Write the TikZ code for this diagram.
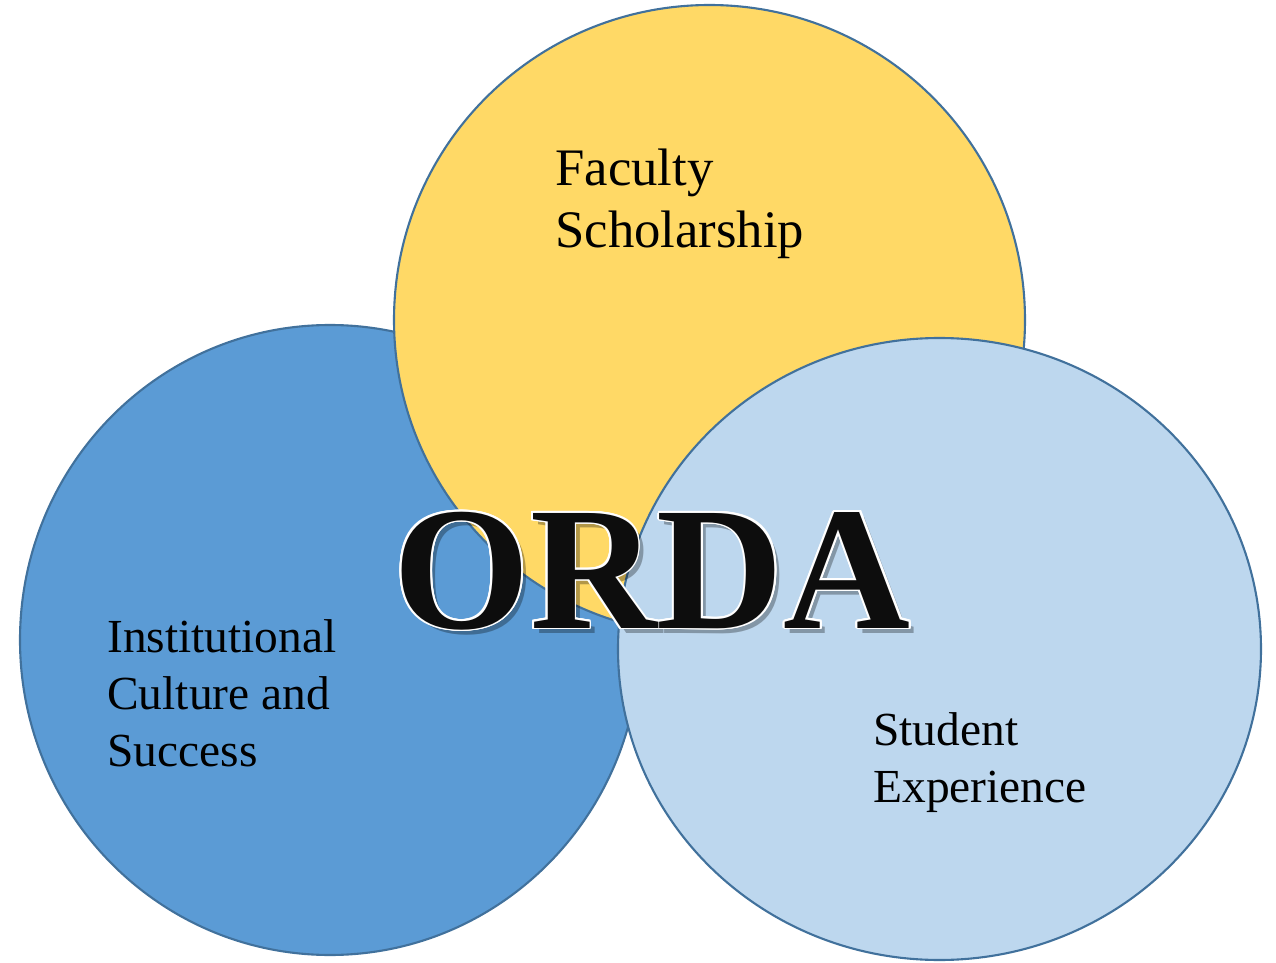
\documentclass[tikz,border=0pt]{standalone}
\usepackage{fontspec}
\setmainfont{Liberation Serif}
\usepackage{contour}
\contourlength{1.1pt}
\contournumber{16}
\definecolor{facyellow}{HTML}{FFD966}
\definecolor{instblue}{HTML}{5B9BD5}
\definecolor{studblue}{HTML}{BDD7EE}
\definecolor{rimblue}{HTML}{41719C}
\tikzset{
  venn/.style={draw=rimblue, line width=1.2pt},
  lbl/.style={inner sep=0pt, align=left, anchor=base west},
}

\begin{document}
\begin{tikzpicture}[x=0.02cm, y=-0.02cm]
			%%%%% START %%%%%
			\useasboundingbox (0, 0) rectangle (1276, 963);
			
			% three circles, back to front
			\draw[venn, fill=instblue] (330, 640) ellipse (310 and 315);
			\draw[venn, fill=facyellow] (709.5, 320) ellipse (315.5 and 315);
			\draw[venn, fill=studblue] (939.5, 649) ellipse (321.5 and 311);
			
			% labels (base = last line)
			\node[lbl, font=\fontsize{30}{35.7}\selectfont] (fac) at (555, 248) {Faculty\\Scholarship};
			\node[lbl, font=\fontsize{27}{32.3}\selectfont] (inst) at (107, 766) {Institutional\\Culture and\\Success};
			\node[lbl, font=\fontsize{27}{32.3}\selectfont] (stud) at (873, 802) {Student\\Experience};
			
			% centre word
			\node[inner sep=0pt, anchor=base, text=black, opacity=0.3, font=\fontsize{100}{100}\selectfont\bfseries] (ordashadow) at (657, 633) {ORDA};
			\node[inner sep=0pt, anchor=base, text=black!95, font=\fontsize{100}{100}\selectfont\bfseries] (orda) at (652, 628) {\contour{white}{ORDA}};
			
			%%%%% END %%%%%
\end{tikzpicture}
\end{document}
